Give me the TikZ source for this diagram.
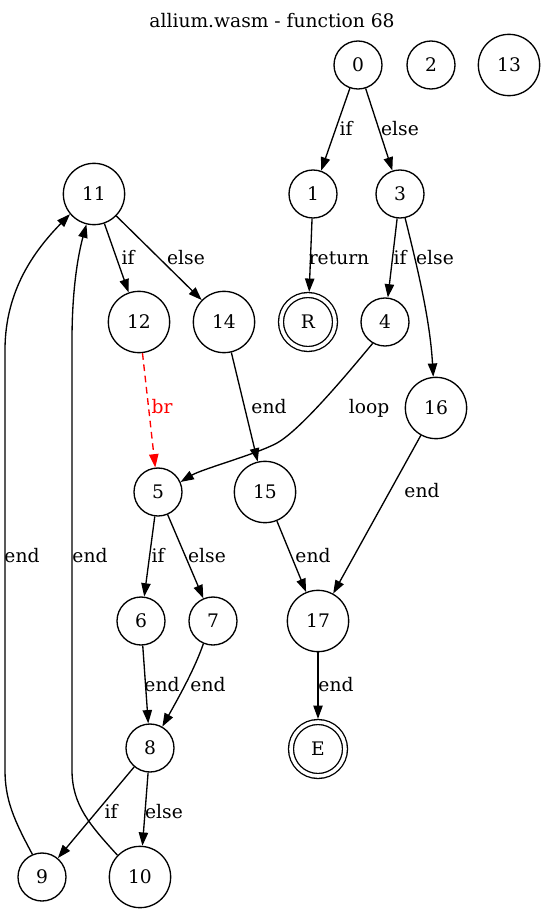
\documentclass[tikz,border=0pt]{standalone}
\usepackage{fontspec}
\setmainfont{DejaVu Serif}
\usetikzlibrary{arrows.meta}
\begin{document}
\begin{tikzpicture}[x=0.75pt,y=-0.75pt,
  every node/.style={font=\fontsize{14}{17}\selectfont},
  st/.style={circle,draw,line width=1pt,minimum size=36pt,inner sep=0pt},
  dt/.style={st,minimum size=46pt},
  ft/.style={circle,draw,line width=1pt,double,double distance=2.7pt,minimum size=40.5pt,inner sep=0pt,outer sep=2.35pt},
  arr/.style={line width=1pt,-{Triangle[length=10pt,width=7pt]}},
  brk/.style={arr,red,dash pattern=on 5pt off 3.5pt},
  lbl/.style={anchor=base,inner sep=0pt},
]
\useasboundingbox (0,0) rectangle (545,913);

% title
\node[lbl] (title) at (272,28) {allium.wasm - function 68};

% blocks
\node[st] (n0)  at (358,65)  {0};
\node[st] (n2)  at (431,65)  {2};
\node[dt] (n13) at (509,65)  {13};
\node[dt] (n11) at (94,194)  {11};
\node[st] (n1)  at (313,194) {1};
\node[st] (n3)  at (400,194) {3};
\node[dt] (n12) at (139,322) {12};
\node[dt] (n14) at (224,322) {14};
\node[ft] (R)   at (308,322) {R};
\node[st] (n4)  at (385,322) {4};
\node[dt] (n16) at (436,408) {16};
\node[st] (n5)  at (158,492) {5};
\node[dt] (n15) at (265,492) {15};
\node[st] (n6)  at (141,621) {6};
\node[st] (n7)  at (213,621) {7};
\node[dt] (n17) at (318,621) {17};
\node[st] (n8)  at (150,748) {8};
\node[ft] (E)   at (318,749) {E};
\node[st] (n9)  at (42,877)  {9};
\node[dt] (n10) at (140,877) {10};

% control flow
\draw[arr] (n0) -- (n1);
\draw[arr] (n0) -- (n3);
\draw[arr] (n1) -- (R);
\draw[arr] (n3) -- (n4);
\draw[arr] (n3.282) .. controls (418,270) and (430,320) .. (n16.95);
\draw[arr] (n11) -- (n12);
\draw[arr] (n11) -- (n14);
\draw[brk] (n12) -- (n5);
\draw[arr] (n14) -- (n15);
\draw[arr] (n4.240) .. controls (352,368) and (302,429) .. (277,443)
                    .. controls (257,454) and (202,469) .. (n5.24);
\draw[arr] (n16) -- (n17);
\draw[arr] (n5) -- (n6);
\draw[arr] (n5) -- (n7);
\draw[arr] (n15) -- (n17);
\draw[arr] (n6) -- (n8);
\draw[arr] (n7.247) .. controls (195,668) and (180,695) .. (n8.60);
\draw[arr] (n17) -- (E);
\draw[arr] (n8) -- (n9);
\draw[arr] (n8) -- (n10);
\draw[arr] (n9.113) .. controls (14,820) and (5,800) .. (5,770) -- (5,350)
                    .. controls (5,290) and (35,250) .. (n11.220);
\draw[arr] (n10.136) .. controls (90,825) and (72,805) .. (72,770) -- (72,340)
                     .. controls (72,290) and (78,255) .. (n11.256);

% edge labels
\node[lbl] (l01)   at (346,136) {if};
\node[lbl] (l03)   at (400,136) {else};
\node[lbl] (l1R)   at (339,264) {return};
\node[lbl] (l34)   at (400,264) {if};
\node[lbl] (l316)  at (435,264) {else};
\node[lbl] (l1112) at (128,264) {if};
\node[lbl] (l1114) at (186,264) {else};
\node[lbl,red] (l125) at (162,413) {br};
\node[lbl] (l1415) at (269,413) {end};
\node[lbl] (l45)   at (369,413) {loop};
\node[lbl] (l1617) at (422,497) {end};
\node[lbl] (l911)  at (22,562)  {end};
\node[lbl] (l1011) at (90,562)  {end};
\node[lbl] (l56)   at (158,562) {if};
\node[lbl] (l57)   at (207,562) {else};
\node[lbl] (l1517) at (313,562) {end};
\node[lbl] (l68)   at (162,691) {end};
\node[lbl] (l78)   at (208,691) {end};
\node[lbl] (l17E)  at (336,691) {end};
\node[lbl] (l89)   at (111,818) {if};
\node[lbl] (l810)  at (164,818) {else};
\end{tikzpicture}
\end{document}
